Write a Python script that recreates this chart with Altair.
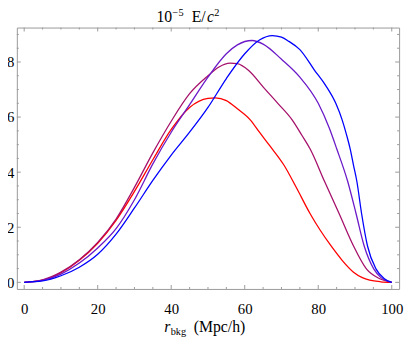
import altair as alt
import pandas as pd

# ---- data ----
red_x = [0, 5, 10, 15, 20, 25, 30, 35, 40, 45, 50, 52, 55, 58, 61.5, 64, 66.8, 70.7, 74, 77.8, 80.5, 83.5, 86.5, 89.6, 92, 94, 97, 100]
red_y = [0, 0.08, 0.35, 0.8, 1.42, 2.25, 3.3, 4.45, 5.55, 6.35, 6.68, 6.7, 6.6, 6.3, 5.9, 5.45, 4.96, 4.25, 3.45, 2.49, 1.9, 1.32, 0.8, 0.37, 0.17, 0.08, 0.02, 0]

crimson_x = [0, 5, 10, 15, 20, 25, 30, 35, 40, 45, 50, 53, 56, 58, 61, 65.1, 69, 72.9, 75.5, 77.8, 81.7, 85.7, 89.6, 93.1, 96.6, 100]
crimson_y = [0, 0.09, 0.37, 0.82, 1.45, 2.3, 3.45, 4.7, 5.85, 6.85, 7.5, 7.82, 7.96, 7.94, 7.7, 7.08, 6.5, 5.9, 5.35, 4.84, 3.67, 2.49, 1.32, 0.49, 0.14, 0]

purple_x = [0, 5, 10, 15, 20, 25, 30, 35, 40, 45, 50, 55, 58, 62, 65, 70, 75, 80, 83, 85.05, 88, 90.3, 92.5, 95.1, 97, 100]
purple_y = [0, 0.07, 0.3, 0.7, 1.25, 1.95, 3.0, 4.3, 5.45, 6.45, 7.45, 8.3, 8.62, 8.78, 8.65, 8.1, 7.45, 6.5, 5.6, 4.84, 3.67, 2.49, 1.32, 0.49, 0.18, 0]

blue_x = [0, 5, 10, 15, 20, 25, 30, 35, 40, 45, 50, 55, 60, 64, 67.5, 70, 72, 75, 79, 82, 84.8, 86.5, 87.8, 88.7, 89.6, 90.5, 91.8, 93.4, 95.7, 97.9, 100]
blue_y = [0, 0.05, 0.24, 0.55, 1.02, 1.75, 2.7, 3.7, 4.62, 5.45, 6.35, 7.4, 8.3, 8.8, 8.96, 8.9, 8.75, 8.45, 7.7, 7.15, 6.49, 5.9, 5.31, 4.84, 4.25, 3.67, 2.49, 1.32, 0.49, 0.14, 0]

series_names = ["a", "b", "c", "d"]
series_colors = ["#FF0000", "#A5106A", "#6A18C8", "#0000FF"]

x_major = [0, 20, 40, 60, 80, 100]
x_minor = [5, 10, 15, 25, 30, 35, 45, 50, 55, 65, 70, 75, 85, 90, 95]
y_major = [0, 2, 4, 6, 8]
y_minor = [0.5, 1, 1.5, 2.5, 3, 3.5, 4.5, 5, 5.5, 6.5, 7, 7.5, 8.5, 9]

frames = []
for name, xs, ys in zip(series_names, [red_x, crimson_x, purple_x, blue_x], [red_y, crimson_y, purple_y, blue_y]):
    frames.append(pd.DataFrame({"x": xs, "y": ys, "s": name}))
lines_df = pd.concat(frames, ignore_index=True)

W, H = 389, 266
SERIF = "Liberation Serif, Times New Roman, DejaVu Serif, serif"
FRAME = "#999999"

xscale = alt.Scale(domain=[-2, 102], nice=False, zero=False)
yscale = alt.Scale(domain=[-0.24, 9.25], nice=False, zero=False)
xaxis = alt.Axis(values=x_major, format="d", ticks=False, domain=False, grid=False, title=None,
                 labelFont=SERIF, labelFontSize=15, labelColor="black", labelPadding=13)
yaxis = alt.Axis(values=y_major, format="d", ticks=False, domain=False, grid=False, title=None,
                 labelFont=SERIF, labelFontSize=15, labelColor="black", labelPadding=3)

X = alt.X("x:Q", scale=xscale, axis=xaxis)
Y = alt.Y("y:Q", scale=yscale, axis=yaxis)

lines = alt.Chart(lines_df).mark_line(strokeWidth=1.3, interpolate="monotone").encode(
    x=X, y=Y,
    color=alt.Color("s:N", scale=alt.Scale(domain=series_names, range=series_colors), legend=None),
    detail="s:N",
)

def xticks(vals, length):
    d = pd.DataFrame({"x": vals})
    bot = alt.Chart(d).mark_rule(color=FRAME, strokeWidth=1).encode(
        x=X, y=alt.value(H), y2=alt.value(H - length))
    top = alt.Chart(d).mark_rule(color=FRAME, strokeWidth=1).encode(
        x=X, y=alt.value(0), y2=alt.value(length))
    return [bot, top]

def yticks(vals, length):
    d = pd.DataFrame({"y": vals})
    left = alt.Chart(d).mark_rule(color=FRAME, strokeWidth=1).encode(
        y=Y, x=alt.value(0), x2=alt.value(length))
    right = alt.Chart(d).mark_rule(color=FRAME, strokeWidth=1).encode(
        y=Y, x=alt.value(W), x2=alt.value(W - length))
    return [left, right]

def txt(s, x, y, size=16, style="normal"):
    return alt.Chart(pd.DataFrame({"t": [s]})).mark_text(
        align="left", baseline="alphabetic", font=SERIF, fontSize=size,
        fontStyle=style, color="black").encode(
        x=alt.value(x), y=alt.value(y), text="t:N")

# view origin is at page (17, 25)
ox, oy = 17, 25
texts = [
    txt("10", 159 - ox, 19 - oy),
    txt("\u22125", 175.5 - ox, 13 - oy, size=10.5),
    txt("E/", 195 - ox, 19 - oy),
    txt("c", 210.5 - ox, 19 - oy, style="italic"),
    txt("2", 218 - ox, 13 - oy, size=10.5),
    txt("r", 167 - ox, 335 - oy, style="italic"),
    txt("bkg", 173.5 - ox, 338 - oy, size=10.5),
    txt("(Mpc/h)", 197 - ox, 335 - oy),
]

layers = xticks(x_major, 4) + xticks(x_minor, 2) + yticks(y_major, 4) + yticks(y_minor, 2) + [lines] + texts

chart = alt.layer(*layers).properties(
    width=W, height=H,
    autosize=alt.AutoSizeParams(type="none"),
    padding={"left": 9, "top": 17, "right": 6, "bottom": 47},
).configure_view(stroke=FRAME, strokeWidth=1)

chart.save("out.html", embed_options={"renderer": "svg", "actions": False})
